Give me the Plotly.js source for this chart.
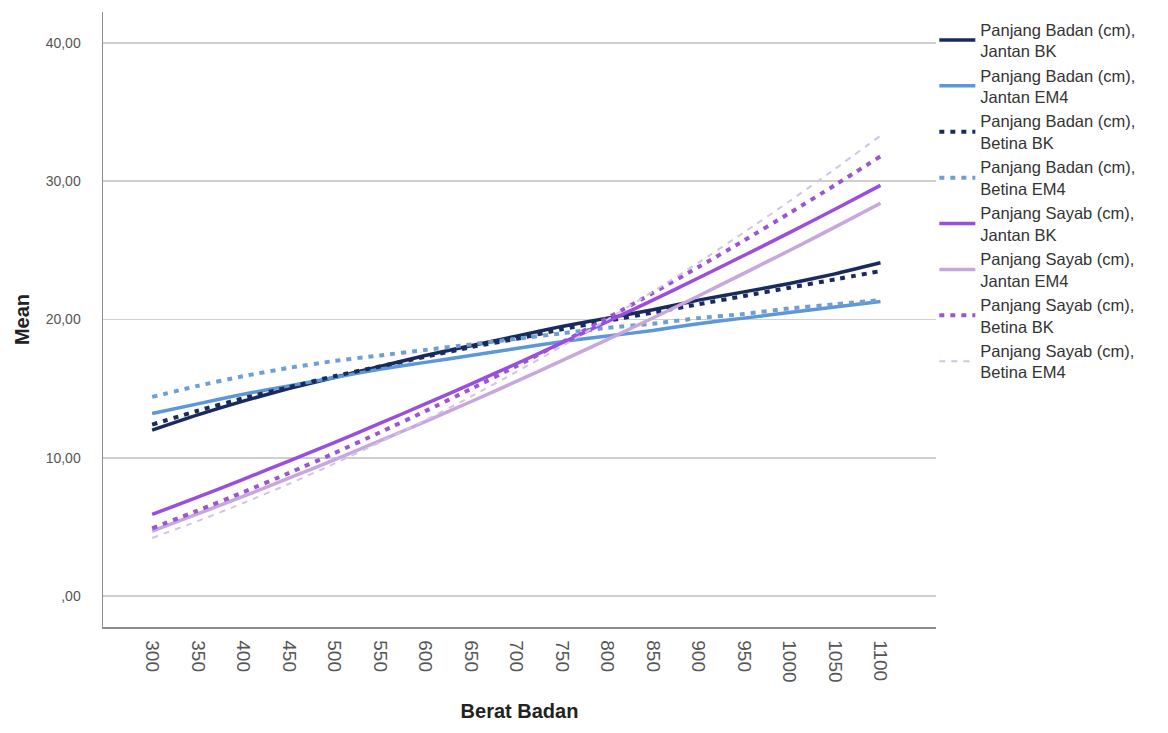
<!DOCTYPE html>
<html>
<head>
<meta charset="utf-8">
<script src="https://cdn.plot.ly/plotly-3.0.1.min.js"></script>
<style>html,body{margin:0;padding:0;background:#fff;}#chart{width:1168px;height:733px;}</style>
</head>
<body>
<div id="chart"></div>
<script>
// Berat Badan (x categories)
const beratBadan = [300,350,400,450,500,550,600,650,700,750,800,850,900,950,1000,1050,1100];
const xTickText = ["300","350","400","450","500","550","600","650","700","750","800","850","900","950","1000","1050","1100"];

// Panjang Badan (cm)
const badanJantanBK  = [12.0,13.1,14.1,15.0,15.8,16.6,17.4,18.1,18.8,19.5,20.1,20.7,21.4,22.0,22.6,23.3,24.1];
const badanJantanEM4 = [13.2,13.9,14.6,15.2,15.8,16.4,16.9,17.4,17.9,18.4,18.8,19.2,19.7,20.1,20.5,20.9,21.3];
const badanBetinaBK  = [12.4,13.4,14.3,15.1,15.9,16.6,17.3,18.0,18.6,19.3,19.9,20.5,21.1,21.7,22.3,22.9,23.5];
const badanBetinaEM4 = [14.4,15.2,15.9,16.5,17.0,17.4,17.8,18.2,18.6,19.0,19.4,19.7,20.1,20.4,20.8,21.1,21.4];

// Panjang Sayab (cm)
const sayabJantanBK  = [5.9,7.15,8.44,9.76,11.10,12.48,13.89,15.33,16.80,18.31,19.84,21.40,23.0,24.63,26.28,27.97,29.7];
const sayabJantanEM4 = [4.7,5.94,7.21,8.52,9.85,11.22,12.62,14.05,15.52,17.02,18.55,20.11,21.70,23.34,24.99,26.68,28.41];
const sayabBetinaBK  = [4.9,6.18,7.51,8.89,10.33,11.83,13.37,14.97,16.63,18.34,20.10,21.92,23.79,25.71,27.69,29.72,31.80];
const sayabBetinaEM4 = [4.2,5.42,6.72,8.10,9.57,11.11,12.72,14.42,16.21,18.06,20.0,22.02,24.11,26.30,28.55,30.89,33.30];

const seriesNames = [
  "Panjang Badan (cm),<br>Jantan BK",
  "Panjang Badan (cm),<br>Jantan EM4",
  "Panjang Badan (cm),<br>Betina BK",
  "Panjang Badan (cm),<br>Betina EM4",
  "Panjang Sayab (cm),<br>Jantan BK",
  "Panjang Sayab (cm),<br>Jantan EM4",
  "Panjang Sayab (cm),<br>Betina BK",
  "Panjang Sayab (cm),<br>Betina EM4"
];
const seriesValues = [badanJantanBK, badanJantanEM4, badanBetinaBK, badanBetinaEM4,
                      sayabJantanBK, sayabJantanEM4, sayabBetinaBK, sayabBetinaEM4];

const yTickVals = [0,10,20,30,40];
const yTickText = [",00","10,00","20,00","30,00","40,00"];

const styles = [
  {color:"#182a5e", width:3.5, dash:"solid"},
  {color:"#5b97d9", width:3.5, dash:"solid"},
  {color:"#182a5e", width:4, dash:"5px,6px"},
  {color:"#6d9fd6", width:4, dash:"5px,6px"},
  {color:"#9b4ddf", width:3.5, dash:"solid"},
  {color:"#c8a7df", width:3.5, dash:"solid"},
  {color:"#9a55d4", width:4, dash:"5px,6px"},
  {color:"#d3c3e4", width:2, dash:"6px,6px"}
];

const traces = seriesValues.map((vals, i) => ({
  type: "scatter",
  mode: "lines",
  x: beratBadan,
  y: vals,
  name: seriesNames[i],
  line: {color: styles[i].color, width: styles[i].width, dash: styles[i].dash, shape: "spline", smoothing: 0.6},
  hoverinfo: "skip"
}));

const layout = {
  width: 1168, height: 733,
  paper_bgcolor: "#ffffff", plot_bgcolor: "#ffffff",
  margin: {l: 103, r: 232, t: 12, b: 106},
  font: {family: "Liberation Sans, Arial, sans-serif", color: "#333"},
  showlegend: true,
  legend: {
    x: 0.998, xanchor: "left", y: 1.0, yanchor: "top",
    font: {size: 16.5, color: "#333", family: "Liberation Sans, Arial, sans-serif"},
    tracegroupgap: 0, itemwidth: 36, bgcolor: "rgba(0,0,0,0)"
  },
  xaxis: {
    type: "linear",
    range: [246, 1161],
    tickmode: "array", tickvals: beratBadan, ticktext: xTickText,
    tickangle: 90,
    tickfont: {size: 19, color: "#555"},
    ticks: "", ticklabelstandoff: 8,
    showgrid: false, zeroline: false,
    showline: true, linecolor: "#8c8c8c", linewidth: 1.5,
    title: {text: "<b>Berat Badan</b>", font: {size: 20, color: "#222", family: "Liberation Sans Narrow, Liberation Sans, Arial"}, standoff: 22}
  },
  yaxis: {
    range: [-2.24, 42.24],
    tickmode: "array", tickvals: yTickVals, ticktext: yTickText,
    tickfont: {size: 14, color: "#555"},
    ticks: "", ticklabelstandoff: 18,
    showgrid: true, gridcolor: "#cfcfcf", gridwidth: 1.5,
    zeroline: false,
    showline: true, linecolor: "#8c8c8c", linewidth: 1.5,
    title: {text: "<b>Mean</b>", font: {size: 20, color: "#222", family: "Liberation Sans Narrow, Liberation Sans, Arial"}, standoff: 10}
  },
  hovermode: false
};

Plotly.newPlot("chart", traces, layout, {staticPlot: true, displayModeBar: false});
</script>
</body>
</html>
